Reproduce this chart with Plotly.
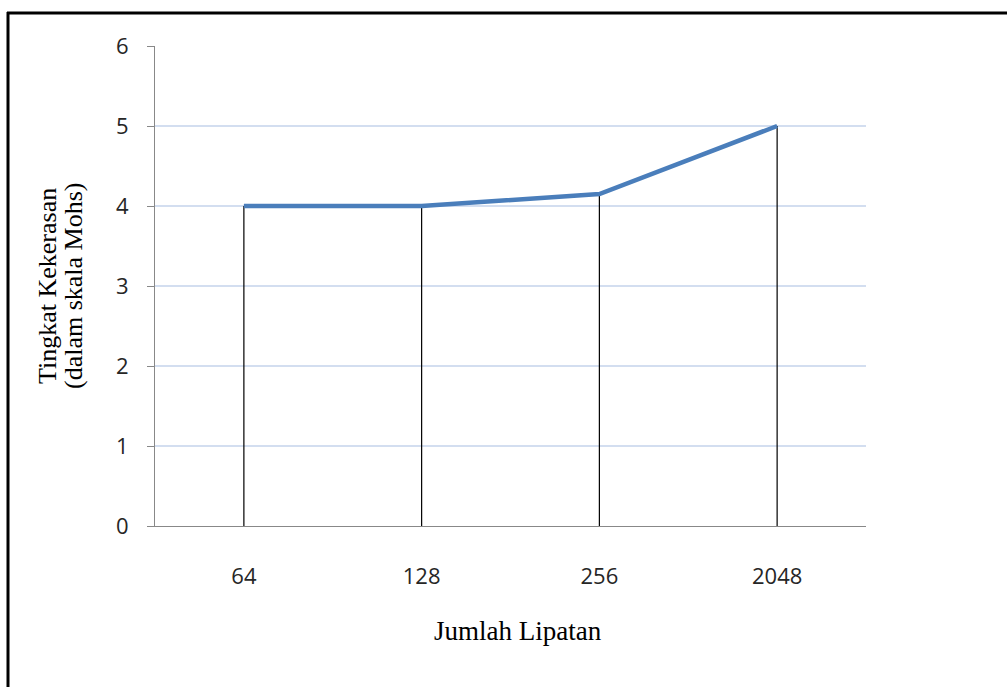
import plotly.graph_objects as go

categories = ["64", "128", "256", "2048"]
hardness = [4.0, 4.0, 4.15, 5.0]
y_ticks = [0, 1, 2, 3, 4, 5, 6]

W, H = 1007, 687
L, R, T, B = 155, 141, 46, 161
pw, ph = W - L - R, H - T - B

def px(x):
    return (x - L) / pw

def py(y):
    return (H - B - y) / ph

fig = go.Figure()
fig.add_trace(go.Scatter(
    x=categories, y=hardness, mode="lines",
    line=dict(color="#4a7ebb", width=4.5),
    error_y=dict(type="data", symmetric=False, array=[0] * len(hardness),
                 arrayminus=hardness, color="black", thickness=1.2, width=0),
    hoverinfo="skip", showlegend=False,
))

title_font = dict(family="Liberation Serif", size=26, color="black")

fig.update_layout(
    width=W, height=H,
    margin=dict(l=L, r=R, t=T, b=B, autoexpand=False),
    paper_bgcolor="white", plot_bgcolor="white",
    showlegend=False,
    xaxis=dict(
        type="category", range=[-0.5, 3.5], showgrid=False,
        showline=True, linecolor="#888888", linewidth=1.2,
        ticks="", ticklabelstandoff=30,
        tickfont=dict(family="Open Sans", size=22, color="#262626"),
        zeroline=False,
    ),
    yaxis=dict(
        range=[0, 6], tickvals=y_ticks, showgrid=True,
        gridcolor="#d3def0", gridwidth=1.8,
        showline=True, linecolor="#888888", linewidth=1.2,
        ticks="outside", ticklen=7, tickcolor="#888888", tickwidth=1.2,
        ticklabelstandoff=14,
        tickfont=dict(family="Open Sans", size=22, color="#262626"),
        zeroline=False,
    ),
    annotations=[
        dict(text="Tingkat Kekerasan", textangle=-90,
             x=px(47), y=py(286), xref="paper", yref="paper",
             showarrow=False, xanchor="center", yanchor="middle",
             font=title_font),
        dict(text="(dalam skala Mohs)", textangle=-90,
             x=px(73), y=py(286), xref="paper", yref="paper",
             showarrow=False, xanchor="center", yanchor="middle",
             font=title_font),
        dict(text="Jumlah Lipatan",
             x=px(518), y=py(631), xref="paper", yref="paper",
             showarrow=False, xanchor="center", yanchor="middle",
             font=dict(family="Liberation Serif", size=27, color="black")),
    ],
    shapes=[
        dict(type="line", xref="paper", yref="paper",
             x0=px(8), x1=px(8), y0=py(12), y1=py(720),
             line=dict(color="black", width=3)),
        dict(type="line", xref="paper", yref="paper",
             x0=px(7), x1=px(1050), y0=py(13), y1=py(13),
             line=dict(color="black", width=3)),
    ],
)

fig.write_html("out.html")
